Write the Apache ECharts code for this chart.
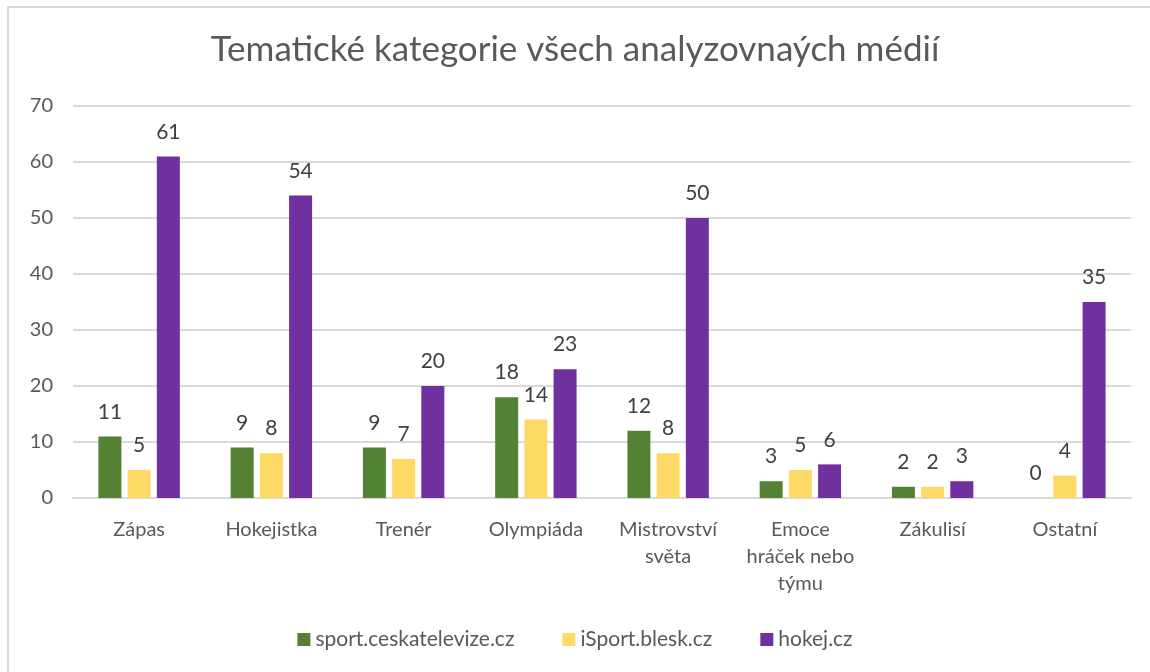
<!DOCTYPE html>
<html>
<head>
<meta charset="utf-8">
<script src="https://cdn.jsdelivr.net/npm/echarts@6/dist/echarts.min.js"></script>
<style>
  html, body { margin: 0; padding: 0; background: #fff; }
  #chart { width: 1150px; height: 672px; }
  .frame {
    position: absolute; left: 7px; top: 6px; width: 1150px; height: 672px;
    border-left: 2px solid #d9d9d9; border-top: 2px solid #d9d9d9;
    pointer-events: none;
  }
</style>
</head>
<body>
<div id="chart"></div>
<div class="frame"></div>
<script>
  const categories = ['Zápas', 'Hokejistka', 'Trenér', 'Olympiáda', 'Mistrovství\nsvěta', 'Emoce\nhráček nebo\ntýmu', 'Zákulisí', 'Ostatní'];
  const ceskatelevize = [11, 9, 9, 18, 12, 3, 2, 0];
  const isport = [5, 8, 7, 14, 8, 5, 2, 4];
  const hokej = [61, 54, 20, 23, 50, 6, 3, 35];

  const font = 'Lato, "Open Sans", sans-serif';
  const myChart = echarts.init(document.getElementById('chart'));

  const label = {
    show: true,
    position: 'top',
    distance: 14,
    color: '#404040',
    fontSize: 21,
    fontFamily: font
  };

  myChart.setOption({
    animation: false,
    title: {
      text: 'Tematické kategorie všech analyzovnaých médií',
      left: 'center',
      top: 27,
      textStyle: { color: '#595959', fontSize: 35, fontWeight: 'normal', fontFamily: font }
    },
    legend: {
      bottom: 17,
      left: 'center',
      itemWidth: 13,
      itemHeight: 13,
      itemGap: 48,
      icon: 'rect',
      textStyle: { color: '#595959', fontSize: 21, fontFamily: font }
    },
    grid: { left: 73, right: 19, top: 106, bottom: 174 },
    xAxis: {
      type: 'category',
      data: categories,
      axisLine: { lineStyle: { color: '#d9d9d9', width: 2 } },
      axisTick: { show: false },
      axisLabel: { color: '#595959', fontSize: 20, fontFamily: font, margin: 18, lineHeight: 27, interval: 0 }
    },
    yAxis: {
      type: 'value',
      min: 0,
      max: 70,
      interval: 10,
      axisLine: { show: false },
      axisTick: { show: false },
      splitLine: { lineStyle: { color: '#d9d9d9', width: 2 } },
      axisLabel: { color: '#595959', fontSize: 20, fontFamily: font, margin: 20, align: 'right' }
    },
    series: [
      { type: 'bar', name: 'sport.ceskatelevize.cz', data: ceskatelevize, barWidth: 23, barGap: '27%', itemStyle: { color: '#548235' }, label: label },
      { type: 'bar', name: 'iSport.blesk.cz', data: isport, barWidth: 23, barGap: '27%', itemStyle: { color: '#ffd966' }, label: label },
      { type: 'bar', name: 'hokej.cz', data: hokej, barWidth: 23, barGap: '27%', itemStyle: { color: '#7030a0' }, label: label }
    ]
  });
</script>
</body>
</html>
